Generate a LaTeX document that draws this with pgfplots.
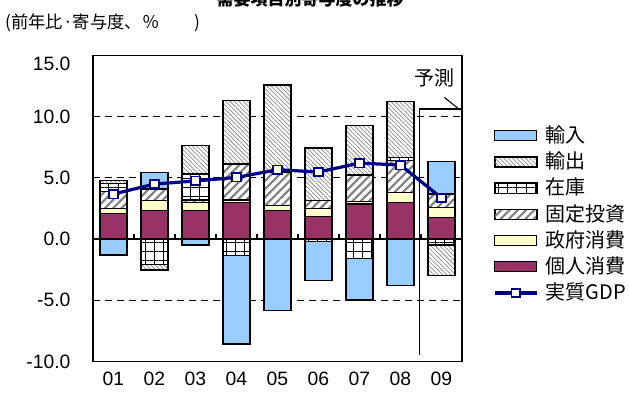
\documentclass[border=0pt]{standalone}
\usepackage{fontspec}
\setmainfont{Liberation Sans}
\newfontfamily\cjk{Noto Sans CJK JP}
\usepackage{pgfplots}
\usepackage{pgfplotstable}
\pgfplotsset{compat=1.18}
\usetikzlibrary{patterns.meta}

\definecolor{impblue}{RGB}{153,204,255}
\definecolor{consum}{RGB}{153,51,102}
\definecolor{govyel}{RGB}{255,255,204}
\definecolor{gdpnavy}{RGB}{0,0,128}
\definecolor{hatchgray}{RGB}{128,128,128}
\definecolor{finegray}{RGB}{140,140,140}

% Contributions to real GDP growth (percentage points).
% Components are split into their positive part (...p) and negative part (...n)
% so that each side of zero is stacked on its own.
\pgfplotstableread{
x  cons  gov   fix   invp  expp  impp  invn   expn   impn   gdp
0  2.10  0.41  1.39  0.65  0.22  0.00   0.00   0.00  -1.30  3.68
1  2.32  0.82  0.95  0.00  0.00  1.36  -2.09  -0.44   0.00  4.50
2  2.32  0.68  0.19  2.13  2.31  0.00   0.00   0.00  -0.48  4.75
3  3.00  0.19  2.94  0.00  5.18  0.00  -1.36   0.00  -7.21  5.04
4  2.32  0.41  2.77  0.00  7.09  0.00   0.00   0.00  -5.85  5.67
5  1.83  0.68  0.63  0.00  4.30  0.00  -0.21   0.00  -3.19  5.48
6  2.87  0.19  2.17  0.00  4.03  0.00  -1.58   0.00  -3.40  6.21
7  3.00  0.82  2.58  0.28  4.57  0.00   0.00   0.00  -3.81  6.05
8  1.78  0.82  1.08  0.00  0.00  2.67  -0.48  -2.51   0.00  3.36
}\contrib

\pgfplotsset{
  base/.style={
    scale only axis, width=276.75pt, height=229.5pt,
    xmin=-0.5, xmax=8.5, ymin=-10, ymax=15,
    at={(69.75pt,25.875pt)}, anchor=south west,
  },
  seg/.style={draw=black, line width=1.1pt,
    legend image code/.code={\draw[##1, line width=0.9pt] (0pt,-3.8pt) rectangle (31.5pt,3.8pt);}},
  s cons/.style={seg, fill=consum},
  s gov/.style={seg, fill=govyel},
  s fix/.style={seg, preaction={fill=white},
    pattern={Lines[angle=45,distance=4.4pt,line width=1.6pt]}, pattern color=hatchgray},
  s inv/.style={seg, preaction={fill=white},
    pattern={Hatch[angle=0,distance=6.8pt,line width=0.5pt]}, pattern color=black},
  s exp/.style={seg, preaction={fill=white},
    pattern={Lines[angle=-45,distance=2.3pt,line width=0.55pt]}, pattern color=finegray},
  s imp/.style={seg, fill=impblue},
  gdpline/.style={color=gdpnavy, line width=2.4pt, mark=square*, mark size=3.2pt,
    mark options={fill=white, draw=gdpnavy, line width=1.2pt}},
  gdplegend/.style={legend image code/.code={
    \draw[mark repeat=2, mark phase=2, ##1, sharp plot]
      plot coordinates {(0pt,0pt) (15.75pt,0pt) (31.5pt,0pt)};}},
}

\begin{document}
\begin{tikzpicture}
\useasboundingbox (0,0) rectangle (471.75pt,297pt);

% heading
\node[overlay, anchor=base, font=\cjk\bfseries\fontsize{12.75}{14}\selectfont]
  at (232.5pt,292.6pt) {需要項目別寄与度の推移};
\node[anchor=base west, inner sep=0pt, font=\cjk\fontsize{13}{15}\selectfont]
  at (3.75pt,275.5pt) {(前年比·寄与度、％\hspace{2.0em})};

% positive side of each stack, frame, ticks, grid and legend
\begin{axis}[base, ybar stacked, bar width=20.25pt,
  axis line style={black, line width=1pt},
  major tick length=0pt,
  xtick={0,...,8}, xticklabels={01,02,03,04,05,06,07,08,09},
  ytick={-10,-5,0,5,10}, extra y ticks={15},
  extra y tick style={grid=none, yticklabel style={yshift=-6pt}},
  ymajorgrids, grid style={black, line width=0.6pt, dash pattern=on 5pt off 4pt},
  /pgf/number format/assume math mode=true,
  ticklabel style={font=\fontsize{14.5}{16}\selectfont},
  yticklabel style={/pgf/number format/fixed, /pgf/number format/fixed zerofill,
    /pgf/number format/precision=1, anchor=east, inner sep=0pt, xshift=-16.75pt},
  xticklabel style={anchor=north, inner sep=0pt, yshift=-7.5pt},
  legend style={at={(1.084,0.769)}, anchor=north west, draw=none, fill=none,
    inner sep=0pt, row sep=5.65pt, column sep=5.5pt,
    font=\cjk\fontsize{15}{18}\selectfont,
    nodes={inner sep=0pt, text height=12pt, text depth=2pt}},
  legend cell align=left, reverse legend,
]
\addlegendimage{gdpline, gdplegend}
\addplot[s cons] table[x=x, y=cons] {\contrib};
\addplot[s gov]  table[x=x, y=gov]  {\contrib};
\addplot[s fix]  table[x=x, y=fix]  {\contrib};
\addplot[s inv]  table[x=x, y=invp] {\contrib};
\addplot[s exp]  table[x=x, y=expp] {\contrib};
\addplot[s imp]  table[x=x, y=impp] {\contrib};
\legend{実質GDP,個人消費,政府消費,固定投資,在庫,輸出,輸入}
\end{axis}

% negative side of each stack
\begin{axis}[base, hide axis, ybar stacked, bar width=20.25pt]
\addplot[s inv] table[x=x, y=invn] {\contrib};
\addplot[s exp] table[x=x, y=expn] {\contrib};
\addplot[s imp] table[x=x, y=impn] {\contrib};
\end{axis}

% zero line, forecast marker and real GDP line
\begin{axis}[base, hide axis, clip=false]
\addplot[black, line width=1.5pt] coordinates {(-0.5,0) (8.5,0)};
\addplot[ycomb, black, line width=1pt, no marks] coordinates
  {(0.5,0.45) (1.5,0.45) (2.5,0.45) (3.5,0.45) (4.5,0.45) (5.5,0.45) (6.5,0.45) (7.5,0.45)};
\draw[black, line width=0.8pt] (axis cs:7.46,-9.5) -- (axis cs:7.46,10.63) -- (axis cs:8.5,10.63);
\draw[black, line width=0.8pt] (axis cs:8.07,11.58) -- (axis cs:8.45,10.55);
\node[font=\cjk\fontsize{15}{18}\selectfont] at (axis cs:7.84,13.2) {予測};
\addplot[gdpline] table[x=x, y=gdp] {\contrib};
\end{axis}
\end{tikzpicture}
\end{document}
